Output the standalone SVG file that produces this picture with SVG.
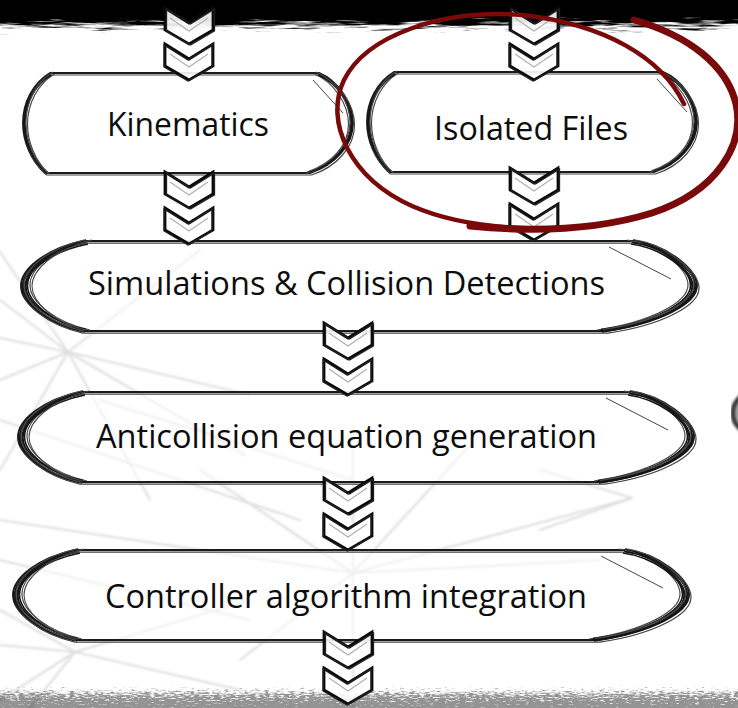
<svg xmlns="http://www.w3.org/2000/svg" xmlns:xlink="http://www.w3.org/1999/xlink" width="738" height="708" viewBox="0 0 738 708">
  <style>
    .bx { fill: #ffffff; fill-opacity: 0.55; stroke: #1a1a1a; stroke-width: 1.9; }
    .b2 { fill: none; stroke: #444444; stroke-width: 1.2; }
    .cp { fill: none; stroke: #151515; stroke-width: 1.6; }
    .cg { fill: none; stroke: #4a4a4a; stroke-width: 1.2; }
    .dg { fill: none; stroke: #444444; stroke-width: 1; }
    .lbl { font-family: "Open Sans", "Noto Sans", "Liberation Sans", sans-serif; font-size: 32px; fill: #0d0d0d; }
    .chv { fill: #ffffff; fill-opacity: 0.9; stroke: #0a0a0a; stroke-width: 2.8; stroke-linejoin: miter; }
    .chv2 { fill: none; stroke: #222222; stroke-width: 1.3; }
    .chvs { fill: none; stroke: #b0b0b0; stroke-width: 1.2; }
    .bg line { stroke: #cacaca; stroke-width: 2.2; stroke-linecap: round; }
    .ring { fill: none; stroke: #7a0a0a; stroke-linecap: round; stroke-linejoin: round; }
  </style>
  <defs>
    <!-- soft edges for the background web of lines -->
    <filter id="soft" x="-5%" y="-5%" width="110%" height="110%">
      <feGaussianBlur stdDeviation="0.8"/>
    </filter>
    <!-- ragged brush band: gradient alpha pushed through noise -->
    <filter id="brushTop" filterUnits="userSpaceOnUse" x="0" y="0" width="738" height="40" color-interpolation-filters="sRGB">
      <feTurbulence type="fractalNoise" baseFrequency="0.025 0.35" numOctaves="4" seed="7" result="n"/>
      <feColorMatrix in="n" type="matrix" values="0 0 0 0 0  0 0 0 0 0  0 0 0 0 0  1 0 0 0 0" result="na"/>
      <feComposite in="SourceAlpha" in2="na" operator="arithmetic" k1="0" k2="4" k3="3.2" k4="-3.1"/>
    </filter>
    <filter id="brushBottom" filterUnits="userSpaceOnUse" x="0" y="678" width="738" height="30" color-interpolation-filters="sRGB">
      <feTurbulence type="fractalNoise" baseFrequency="0.2 0.7" numOctaves="3" seed="11" result="n"/>
      <feColorMatrix in="n" type="matrix" values="0 0 0 0 0  0 0 0 0 0  0 0 0 0 0  1 0 0 0 0" result="na"/>
      <feComposite in="SourceAlpha" in2="na" operator="arithmetic" k1="0" k2="3" k3="3.2" k4="-3"/>
    </filter>
    <linearGradient id="fadeDown" x1="0" y1="0" x2="0" y2="1">
      <stop offset="0" stop-color="#000" stop-opacity="1"/>
      <stop offset="0.35" stop-color="#000" stop-opacity="1"/>
      <stop offset="0.55" stop-color="#000" stop-opacity="0.6"/>
      <stop offset="1" stop-color="#000" stop-opacity="0"/>
    </linearGradient>
    <linearGradient id="fadeUp" x1="0" y1="0" x2="0" y2="1">
      <stop offset="0" stop-color="#000" stop-opacity="0"/>
      <stop offset="0.5" stop-color="#000" stop-opacity="0.7"/>
      <stop offset="1" stop-color="#000" stop-opacity="1"/>
    </linearGradient>

    <!-- wide capsule, 676 x 90 -->
    <path id="wO" d="M 62,0 L 615,0 C 645,4 676,28 676,45 C 676,62 640,82 585,90 L 60,90 C 25,82 0,62 0,45 C 0,28 25,8 62,0 Z"/>
    <path id="wL" d="M 62,0 C 25,8 0,28 0,45 C 0,62 25,82 60,90"/>
    <path id="wR" d="M 615,0 C 645,4 676,28 676,45 C 676,62 640,82 585,90"/>
    <path id="wD" d="M 588,6 L 650,38"/>
    <g id="wideShape">
      <use href="#wO" class="bx"/>
      <use href="#wO" class="b2" transform="translate(2,2.2)"/>
      <use href="#wL" class="cp" transform="translate(2,0)"/>
      <use href="#wL" class="cp" transform="translate(4,1)"/>
      <use href="#wL" class="cp" transform="translate(6.5,-0.5)"/>
      <use href="#wL" class="cg" transform="translate(9,-1)"/>
      <use href="#wL" class="cp" transform="translate(1.5,2) scale(1,0.97)"/>
      <use href="#wL" class="cp" transform="translate(5,3) scale(1,0.95)"/>
      <use href="#wL" class="cg" transform="translate(3,-1.5) scale(1,1.02)"/>
      <use href="#wL" class="cg" transform="translate(11,1) scale(0.9,0.98)"/>
      <use href="#wR" class="cp" transform="translate(-2,0)"/>
      <use href="#wR" class="cp" transform="translate(-4,1)"/>
      <use href="#wR" class="cp" transform="translate(-6.5,-0.5)"/>
      <use href="#wR" class="cg" transform="translate(-9,-1)"/>
      <use href="#wR" class="cp" transform="translate(-1.5,2) scale(1,0.97)"/>
      <use href="#wR" class="cp" transform="translate(-5,3) scale(1,0.95)"/>
      <use href="#wR" class="cg" transform="translate(-3,-1.5)"/>
      <use href="#wD" class="dg"/>
    </g>

    <!-- short capsule, 330 x 100 -->
    <path id="sO" d="M 27,0 L 296,0 C 315,8 330,30 330,50 C 330,72 312,92 287,100 L 22,100 C 8,88 0,68 0,50 C 0,30 10,10 27,0 Z"/>
    <path id="sL" d="M 27,0 C 10,10 0,30 0,50 C 0,68 8,88 22,100"/>
    <path id="sR" d="M 296,0 C 315,8 330,30 330,50 C 330,72 312,92 287,100"/>
    <path id="sD" d="M 290,7 L 320,40"/>
    <g id="shortShape">
      <use href="#sO" class="bx"/>
      <use href="#sO" class="b2" transform="translate(1.5,2)"/>
      <use href="#sL" class="cp" transform="translate(2,0)"/>
      <use href="#sL" class="cg" transform="translate(4.5,1)"/>
      <use href="#sL" class="cp" transform="translate(1,2) scale(1,0.97)"/>
      <use href="#sL" class="cg" transform="translate(3,-1) scale(1,1.01)"/>
      <use href="#sR" class="cp" transform="translate(-2,0)"/>
      <use href="#sR" class="cg" transform="translate(-4.5,1)"/>
      <use href="#sR" class="cp" transform="translate(-1,2) scale(1,0.97)"/>
      <use href="#sR" class="cg" transform="translate(-3,-1)"/>
      <use href="#sD" class="dg"/>
    </g>

    <!-- double chevron connector, centred on x = 0 -->
    <path id="chev" d="M -24,0 L 0,15 L 24,0 L 24,22 L 0,36 L -24,22 Z"/>
    <g id="chevPair">
      <use href="#chev" class="chv"/>
      <use href="#chev" class="chv2" transform="translate(1.5,1)"/>
      <path class="chvs" d="M -19,10 L 0,23 L 19,10"/>
      <use href="#chev" class="chv" transform="translate(0,36)"/>
      <use href="#chev" class="chv2" transform="translate(-1,37)"/>
      <path class="chvs" d="M -19,46 L 0,59 L 19,46"/>
    </g>
  </defs>

  <rect width="738" height="708" fill="#ffffff"/>

  <!-- faint web of lines behind the flow -->
  <g class="bg" filter="url(#soft)" opacity="0.6">
    <line x1="68" y1="352" x2="0" y2="252"/>
    <line x1="68" y1="352" x2="0" y2="300"/>
    <line x1="68" y1="352" x2="0" y2="338"/>
    <line x1="68" y1="352" x2="0" y2="380"/>
    <line x1="68" y1="352" x2="0" y2="470"/>
    <line x1="68" y1="352" x2="245" y2="455"/>
    <line x1="68" y1="352" x2="250" y2="395"/>
    <line x1="68" y1="352" x2="150" y2="500"/>
    <line x1="68" y1="352" x2="200" y2="250"/>
    <line x1="75" y1="652" x2="0" y2="610"/>
    <line x1="75" y1="652" x2="0" y2="645"/>
    <line x1="75" y1="652" x2="0" y2="700"/>
    <line x1="75" y1="652" x2="250" y2="600"/>
    <line x1="75" y1="652" x2="30" y2="708"/>
    <line x1="75" y1="652" x2="240" y2="690"/>
    <line x1="0" y1="520" x2="353" y2="573"/>
    <line x1="0" y1="560" x2="250" y2="620"/>
    <line x1="353" y1="430" x2="353" y2="708"/>
    <line x1="353" y1="573" x2="200" y2="470"/>
    <line x1="353" y1="573" x2="632" y2="498"/>
    <line x1="353" y1="573" x2="470" y2="445"/>
    <line x1="353" y1="573" x2="240" y2="660"/>
    <line x1="353" y1="573" x2="600" y2="560"/>
    <line x1="632" y1="498" x2="540" y2="470"/>
    <line x1="632" y1="498" x2="540" y2="530"/>
    <line x1="0" y1="420" x2="300" y2="520"/>
    <line x1="100" y1="400" x2="353" y2="480"/>
  </g>

  <!-- ink brush along the top edge -->
  <rect x="0" y="0" width="738" height="40" fill="url(#fadeDown)" filter="url(#brushTop)"/>
  <!-- grainy grey band along the bottom edge -->
  <g opacity="0.42">
    <rect x="0" y="682" width="738" height="26" fill="url(#fadeUp)" filter="url(#brushBottom)"/>
  </g>

  <!-- partial grey disc at the right margin -->
  <ellipse cx="752" cy="413" rx="19" ry="20" fill="#a8a8a8" stroke="#3c3c3c" stroke-width="5" filter="url(#soft)"/>

  <!-- process steps -->
  <g id="node-kinematics">
    <use href="#shortShape" transform="translate(23,73)"/>
    <text class="lbl" x="107" y="136" textLength="162" lengthAdjust="spacingAndGlyphs">Kinematics</text>
  </g>
  <g id="node-isolated-files">
    <use href="#shortShape" transform="translate(367,72)"/>
    <text class="lbl" x="434" y="140" textLength="194" lengthAdjust="spacingAndGlyphs">Isolated Files</text>
  </g>
  <g id="node-simulations">
    <use href="#wideShape" transform="translate(21,241)"/>
    <text class="lbl" x="88" y="295" textLength="517" lengthAdjust="spacingAndGlyphs">Simulations &amp; Collision Detections</text>
  </g>
  <g id="node-anticollision">
    <use href="#wideShape" transform="translate(18,392)"/>
    <text class="lbl" x="96" y="448" textLength="501" lengthAdjust="spacingAndGlyphs">Anticollision equation generation</text>
  </g>
  <g id="node-controller">
    <use href="#wideShape" transform="translate(13,550)"/>
    <text class="lbl" x="105" y="608" textLength="482" lengthAdjust="spacingAndGlyphs">Controller algorithm integration</text>
  </g>

  <!-- chevron connectors -->
  <g id="connectors">
    <use href="#chevPair" transform="translate(189,8)"/>
    <use href="#chevPair" transform="translate(534,8)"/>
    <use href="#chevPair" transform="translate(189,172)"/>
    <use href="#chevPair" transform="translate(534,168)"/>
    <use href="#chevPair" transform="translate(348,323)"/>
    <use href="#chevPair" transform="translate(348,478)"/>
    <use href="#chevPair" transform="translate(348,632)"/>
  </g>

  <!-- red hand-drawn loop around the isolated files step -->
  <g id="highlight">
    <path class="ring" stroke-width="4.5" d="M 684,104 C 662,58 605,24 522,15 C 440,9 366,36 344,80 C 324,122 350,178 412,206 C 476,234 582,235 652,213 C 718,191 745,144 736,104 C 727,66 690,36 634,20"/>
    <path class="ring" stroke-width="7" d="M 634,20 C 690,36 727,66 736,104 C 745,144 718,191 652,213 C 600,229 540,233 470,226"/>
  </g>
</svg>
